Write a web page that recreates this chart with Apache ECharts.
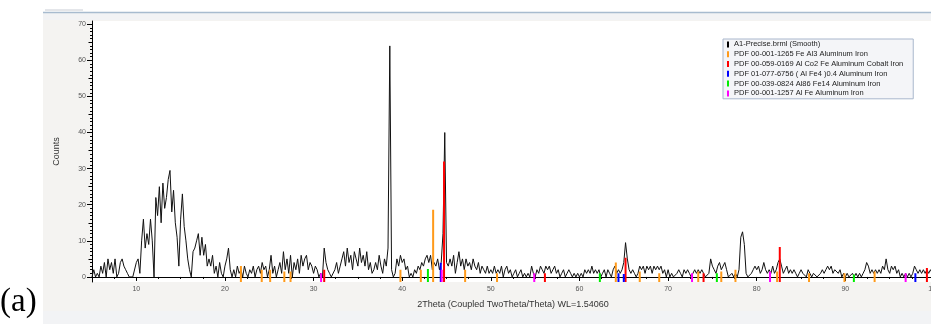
<!DOCTYPE html>
<html><head><meta charset="utf-8">
<script src="https://cdn.jsdelivr.net/npm/echarts@6/dist/echarts.min.js"></script>
<style>html,body{margin:0;padding:0;background:#fff}#c{width:931px;height:324px}</style>
</head><body><div id="c"></div>
<script>
// scan: 2Theta from 5.0 in 0.2 deg steps
const scanStart = 5.0, scanStep = 0.2;
const counts = [
0,2,0,1,0, 3,1,4,0,5, 2,4,1,5,0, 1,4,5,3,2, 1,0,0,0,0,
4,5,1,10,16, 8,12,9,16,10, 0,22,17,25,15, 26,19,22,27,29.5, 18,24,15,11,3,
16,23,14,10,5, 2,0,7,8,10, 12,6,11,6,9, 3,5,3,6,1, 3,0,4,1,0,
3,5,8,2,0, 2,0,3,1,2, 0,3,1,0,2, 1,3,0,2,3, 1,4,2,3,0,
2,6,1,3,0, 2,4,1,7,2, 5,1,6,0,4, 2,5,1,6,3, 5,6,2,4,3,
1,3,2,0,1, 0,8,4,2,1, 0,0,2,4,1, 3,5,7,3,8, 4,6,2,7,5,
3,8,4,6,3, 7,2,4,1,2, 4,2,6,3,1, 5,3,8,64,2, 0,1,5,3,6,
4,5,2,3,0, 1,0,2,1,3, 2,4,3,5,6, 4,6,2,4,3, 5,2,4,12,40,
4,3,5,3,6, 1,4,7,3,5, 2,5,3,4,2, 5,3,2,4,1, 3,2,1,3,1,
2,1,3,1,2, 1,3,0,2,3, 1,2,0,1,2, 0,1,2,0,1, 0,1,0,3,1,
0,2,1,3,2, 1,3,2,3,1, 2,3,1,2,0, 1,2,0,1,2, 1,0,1,0,1,
0,1,0,2,1, 2,1,3,1,2, 1,2,0,1,2, 0,2,1,0,2, 3,1,2,1,2,
4,9.5,5,2,1, 2,1,0,1,3, 2,3,1,3,2, 3,1,3,2,3, 2,3,1,2,0,
2,0,1,0,0, 1,2,1,0,2, 1,2,1,0,1, 2,1,2,1,2, 1,0,0,1,5,
3,2,1,3,4, 2,3,4,2,0, 0,1,0,1,0, 2,11,12.5,9,1, 0,0,1,2,3,
2,3,1,2,4, 2,1,2,1,3, 1,2,4,5,3, 1,2,3,1,2, 1,2,1,0,1,
2,1,1,0,2, 1,0,1,1,0, 0,1,2,1,2, 3,2,3,1,2, 2,1,2,0,1,
0,1,0,0,1, 0,1,0,1,0, 1,2,4,3,1, 2,1,2,1,2, 1,3,2,5,2,
1,3,2,3,1, 2,0,1,0,1, 0,1,0,1,3, 2,1,2,1,2, 1,2,1,2,1,
1
];
// PDF reference sticks: [2Theta, height]
const pdfFeAl3 = [[21.8,3],[24.15,2],[25.1,2],[26.7,1.5],[27.4,1.5],[39.8,2],[42.1,2],[43.49,18.6],[47.1,2],[50.7,1],[64.1,4],[66.8,1.5],[69.0,1],[73.4,1.5],[76.0,1.5],[77.6,2],[82.3,1.5],[85.9,1],[89.9,1],[93.3,1.5]];
const pdfAlCo2Fe = [[31.2,2],[44.72,32],[56.1,1],[65.2,5.3],[74.0,1],[82.6,8.3],[99.2,2.5]];
const pdfAlFe4 = [[44.35,3.9],[64.4,1],[65.0,0.8],[97.9,1]];
const pdfAl86Fe14 = [[42.9,2.2],[62.3,1],[75.5,1],[90.96,0.7]];
const pdfAlFe = [[30.85,1],[44.46,2],[54.9,1],[72.7,1],[81.5,1.5],[96.8,1]];
const seriesNames = ['A1-Precise.brml (Smooth)','PDF 00-001-1265 Fe Al3 Aluminum Iron','PDF 00-059-0169 Al Co2 Fe Aluminum Cobalt Iron','PDF 01-077-6756 ( Al Fe4 )0.4 Aluminum Iron','PDF 00-039-0824 Al86 Fe14 Aluminum Iron','PDF 00-001-1257 Al Fe Aluminum Iron'];
const yTickLabels = [0,10,20,30,40,50,60,70];
const xTickLabels = [10,20,30,40,50,60,70,80,90,100];

const Y_MIN = -1.4, Y_MAX = 70.9;
const colors = ['#000000','#ff9a1a','#ff0000','#0000ff','#00ee00','#ff00ff'];
const trace = counts.map((v,i)=>[+(scanStart + i*scanStep).toFixed(2), v]);
function sticks(arr){const d=[];arr.forEach(p=>{d.push([p[0],Y_MIN]);d.push([p[0],p[1]]);d.push('-');});return d;}
const yMinor=[], yMid=[];
for(let v=1; v<70; v++){ if(v%10===5) yMid.push(v); else if(v%10!==0) yMinor.push(v); }
const xMinor=[]; for(let v=7.5; v<100; v+=2.5){ if(v%10!==0) xMinor.push(v); }

const font = 'Liberation Sans, Arial, sans-serif';
const chart = echarts.init(document.getElementById('c'), null, {renderer:'canvas'});
const stickSeries = [pdfFeAl3,pdfAlCo2Fe,pdfAlFe4,pdfAl86Fe14,pdfAlFe].map((arr,k)=>({
  name: seriesNames[k+1], type:'line', data: sticks(arr), symbol:'none', connectNulls:false,
  lineStyle:{color:colors[k+1], width:2, cap:'butt'}, itemStyle:{color:colors[k+1]}, z: 3+k, silent:true
}));
chart.setOption({
  animation:false,
  graphic:[
    {type:'rect', shape:{x:43,y:13,width:888,height:311}, style:{fill:'#f2f3f5'}, z:-10},
    {type:'rect', shape:{x:43,y:20,width:888,height:291}, style:{fill:'#f4f3f1'}, z:-9},
    {type:'line', shape:{x1:43,y1:12.5,x2:931,y2:12.5}, style:{stroke:'#a7bbcf', lineWidth:1.5}, z:-8},
    {type:'line', shape:{x1:45,y1:10,x2:83,y2:10}, style:{stroke:'#c8ccd4', lineWidth:1}, z:-8},
    {type:'text', left:0, top:286, style:{text:'(a)', font:'33px "Liberation Serif", "Times New Roman", serif', fill:'#000'}}
  ],
  grid:{left:92, top:21, width:842, height:261, show:true, backgroundColor:'#ffffff', borderWidth:0, outerBoundsMode:'none', containLabel:false},
  legend:{
    orient:'vertical', left:723, top:39, selectedMode:false,
    itemWidth:2, itemHeight:6, itemGap:1,
    padding:[1,10,1,4],
    backgroundColor:'#f4f5f8', borderColor:'#a9b7cc', borderWidth:1,
    textStyle:{fontFamily:font, fontSize:7.5, color:'#222', lineHeight:8.8},
    data: seriesNames.map((n,i)=>({name:n, icon:'rect', itemStyle:{color:colors[i]}}))
  },
  xAxis:[
    {type:'value', min:5, max:100, gridIndex:0,
     name:'2Theta (Coupled TwoTheta/Theta) WL=1.54060', nameLocation:'middle', nameGap:18,
     nameTextStyle:{fontFamily:font, fontSize:9, color:'#333'},
     axisLine:{show:true, lineStyle:{color:'#000', width:1}},
     axisTick:{show:true, customValues:xTickLabels, length:4, lineStyle:{color:'#000'}},
     axisLabel:{show:true, customValues:xTickLabels, fontFamily:font, fontSize:7, color:'#555', margin:4, hideOverlap:false},
     splitLine:{show:false}},
    {type:'value', min:5, max:100, gridIndex:0, position:'bottom',
     axisLine:{show:false}, axisLabel:{show:false}, splitLine:{show:false},
     axisTick:{show:true, customValues:xMinor, length:2, lineStyle:{color:'#000'}}}
  ],
  yAxis:[
    {type:'value', min:Y_MIN, max:Y_MAX, gridIndex:0,
     name:'Counts', nameLocation:'middle', nameGap:31, nameRotate:90,
     nameTextStyle:{fontFamily:font, fontSize:9, color:'#333'},
     axisLine:{show:true, lineStyle:{color:'#000', width:1}},
     axisTick:{show:true, customValues:yTickLabels, length:5, lineStyle:{color:'#000'}},
     axisLabel:{show:true, customValues:yTickLabels, fontFamily:font, fontSize:7, color:'#555', margin:6},
     splitLine:{show:false}},
    {type:'value', min:Y_MIN, max:Y_MAX, gridIndex:0, position:'left',
     axisLine:{show:false}, axisLabel:{show:false}, splitLine:{show:false},
     axisTick:{show:true, customValues:yMinor, length:2, lineStyle:{color:'#000'}}},
    {type:'value', min:Y_MIN, max:Y_MAX, gridIndex:0, position:'left',
     axisLine:{show:false}, axisLabel:{show:false}, splitLine:{show:false},
     axisTick:{show:true, customValues:yMid, length:3.5, lineStyle:{color:'#000'}}}
  ],
  series:[
    {name:seriesNames[0], type:'line', data:trace, symbol:'none', lineStyle:{color:'#111', width:1}, itemStyle:{color:'#000'}, z:2, silent:true}
  ].concat(stickSeries)
});
</script></body></html>
